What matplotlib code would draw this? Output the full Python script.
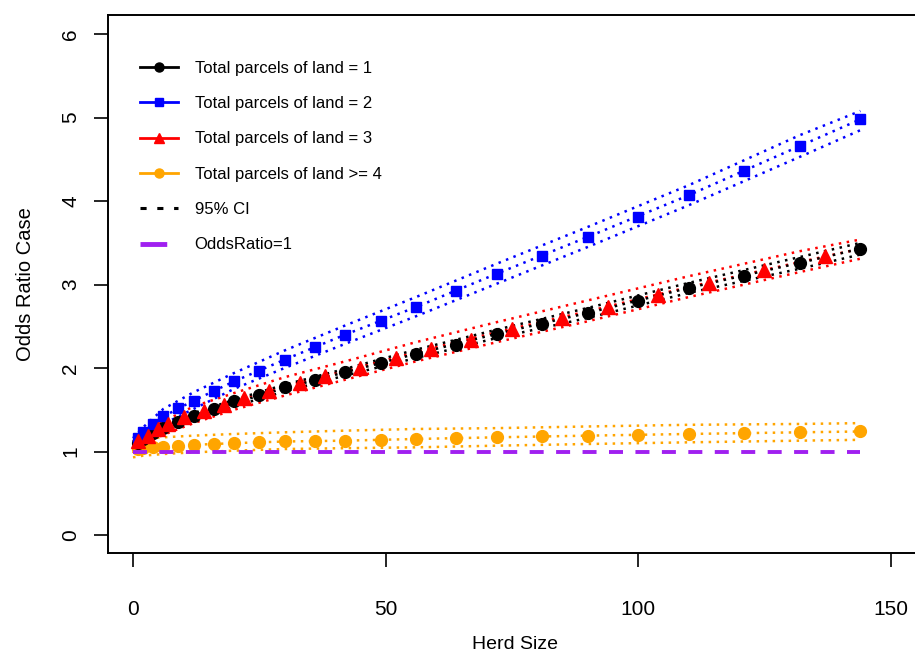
import matplotlib
matplotlib.use("Agg")
import matplotlib.pyplot as plt
from matplotlib.lines import Line2D

plt.rcParams['font.family'] = ['Liberation Sans', 'DejaVu Sans']

# herd sizes where the estimates are plotted
herd_pts = [1, 2, 4, 6, 9, 12, 16, 20, 25, 30, 36, 42, 49, 56, 64, 72, 81, 90, 100, 110, 121, 132, 144]
herd_red = [1, 3, 5, 7, 10, 14, 18, 22, 27, 33, 38, 45, 52, 59, 67, 75, 85, 94, 104, 114, 125, 137]

or_land1 = [1.10, 1.15, 1.22, 1.28, 1.35, 1.42, 1.51, 1.60, 1.68, 1.77, 1.86, 1.95, 2.06, 2.17, 2.28,
            2.41, 2.53, 2.66, 2.80, 2.96, 3.10, 3.26, 3.43]
or_land2 = [1.16, 1.23, 1.33, 1.42, 1.52, 1.61, 1.72, 1.84, 1.96, 2.10, 2.25, 2.40, 2.56, 2.73, 2.92,
            3.13, 3.34, 3.57, 3.81, 4.07, 4.36, 4.66, 4.98]
or_land3 = [1.12, 1.19, 1.27, 1.33, 1.41, 1.49, 1.56, 1.64, 1.72, 1.82, 1.90, 2.00, 2.12, 2.23, 2.34,
            2.47, 2.60, 2.73, 2.87, 3.02, 3.17, 3.34]
or_land4 = [1.03, 1.04, 1.05, 1.06, 1.07, 1.08, 1.09, 1.10, 1.11, 1.12, 1.12, 1.13, 1.14, 1.15, 1.16,
            1.17, 1.18, 1.19, 1.20, 1.21, 1.22, 1.23, 1.24]

# 95% confidence bands, read at these herd sizes
herd_ci = [0, 2, 6, 12, 20, 30, 42, 56, 72, 90, 110, 132, 144]
fit1 = [1.05, 1.15, 1.28, 1.42, 1.58, 1.76, 1.95, 2.17, 2.41, 2.66, 2.96, 3.26, 3.43]
lo1 = [1.02, 1.11, 1.24, 1.38, 1.54, 1.72, 1.91, 2.12, 2.36, 2.60, 2.90, 3.19, 3.36]
hi1 = [1.08, 1.19, 1.32, 1.46, 1.62, 1.80, 1.99, 2.22, 2.46, 2.72, 3.02, 3.33, 3.50]
fit2 = [1.10, 1.22, 1.42, 1.61, 1.84, 2.10, 2.40, 2.73, 3.13, 3.57, 4.07, 4.66, 4.98]
lo2 = [1.05, 1.15, 1.33, 1.51, 1.75, 2.00, 2.29, 2.62, 3.01, 3.45, 3.95, 4.53, 4.85]
hi2 = [1.16, 1.29, 1.51, 1.71, 1.94, 2.21, 2.51, 2.85, 3.25, 3.69, 4.19, 4.79, 5.08]
fit3 = [1.05, 1.15, 1.28, 1.44, 1.60, 1.78, 1.97, 2.19, 2.43, 2.68, 2.97, 3.27, 3.43]
lo3 = [0.98, 1.08, 1.20, 1.34, 1.50, 1.67, 1.86, 2.08, 2.31, 2.56, 2.85, 3.15, 3.31]
hi3 = [1.12, 1.22, 1.36, 1.54, 1.70, 1.89, 2.08, 2.31, 2.55, 2.81, 3.10, 3.40, 3.54]
fit4 = [1.03, 1.04, 1.06, 1.08, 1.10, 1.12, 1.13, 1.15, 1.17, 1.19, 1.21, 1.23, 1.24]
lo4 = [0.93, 0.95, 0.97, 0.99, 1.01, 1.03, 1.04, 1.05, 1.07, 1.09, 1.11, 1.13, 1.14]
hi4 = [1.14, 1.15, 1.17, 1.19, 1.21, 1.23, 1.25, 1.27, 1.28, 1.30, 1.32, 1.33, 1.34]

ref_x = [0, 144]
ref_y = [1, 1]

labels = ["Total parcels of land = 1", "Total parcels of land = 2",
          "Total parcels of land = 3", "Total parcels of land >= 4",
          "95% CI", "OddsRatio=1"]

black, blue, red, orange, purple = "black", "#0000FF", "#FF0000", "#FFA500", "#A020F0"
dot = (0, (1, 2.2))

W, H = 915, 655
fig = plt.figure(figsize=(W / 100, H / 100), dpi=100)
ax = fig.add_axes([108 / W, 102 / H, (921 - 108) / W, 538 / H])

# confidence bands
for xs, fit, lo, hi, c in [(herd_ci, fit4, lo4, hi4, orange),
                           (herd_ci, fit3, lo3, hi3, red),
                           (herd_ci, fit1, lo1, hi1, black),
                           (herd_ci, fit2, lo2, hi2, blue)]:
    for ys in (lo, hi, fit):
        ax.plot(xs, ys, color=c, lw=1.8, linestyle=dot, zorder=2)

# point estimates
ax.plot(herd_pts, or_land4, 'o', color=orange, ms=8.5, zorder=3)
ax.plot(herd_pts, or_land1, 'o', color=black, ms=8.5, zorder=3)
ax.plot(herd_red, or_land3, '^', color=red, ms=9.5, zorder=4)
ax.plot(herd_pts, or_land2, 's', color=blue, ms=7.5, zorder=3)
ax.plot(ref_x, ref_y, color=purple, lw=2.8, linestyle=(0, (3.6, 3.2)), zorder=5)

ax.set_xlim(-4.95, 156)
ax.set_ylim(-0.216, 6.23)
ax.set_xticks([0, 50, 100, 150])
ax.set_yticks([0, 1, 2, 3, 4, 5, 6])
ax.tick_params(axis='both', direction='out', length=10, width=1.2, labelsize=15)
ax.tick_params(axis='x', pad=24)
ax.tick_params(axis='y', pad=10)
for lab in ax.get_yticklabels():
    lab.set_rotation(90)
    lab.set_va('center')
for s in ax.spines.values():
    s.set_linewidth(1.4)

ax.set_xlabel("Herd Size", fontsize=14, labelpad=12)
ax.set_ylabel("Odds Ratio Case", fontsize=14.5, labelpad=19)

handles = [
    Line2D([], [], color=black, lw=2, marker='o', ms=6.5),
    Line2D([], [], color=blue, lw=2, marker='s', ms=6),
    Line2D([], [], color=red, lw=2, marker='^', ms=7),
    Line2D([], [], color=orange, lw=2, marker='o', ms=6.5),
    Line2D([], [], color=black, lw=2.2, linestyle=(0, (2, 3.5))),
    Line2D([], [], color=purple, lw=3.5, linestyle=(0.5, (6, 20))),
]
ax.legend(handles, labels, loc='upper left', bbox_to_anchor=(0.039, 0.915),
          frameon=False, fontsize=12, handlelength=2.3, handletextpad=1.0,
          labelspacing=1.22, borderpad=0, borderaxespad=0)

fig.savefig("out.png", dpi=100)
